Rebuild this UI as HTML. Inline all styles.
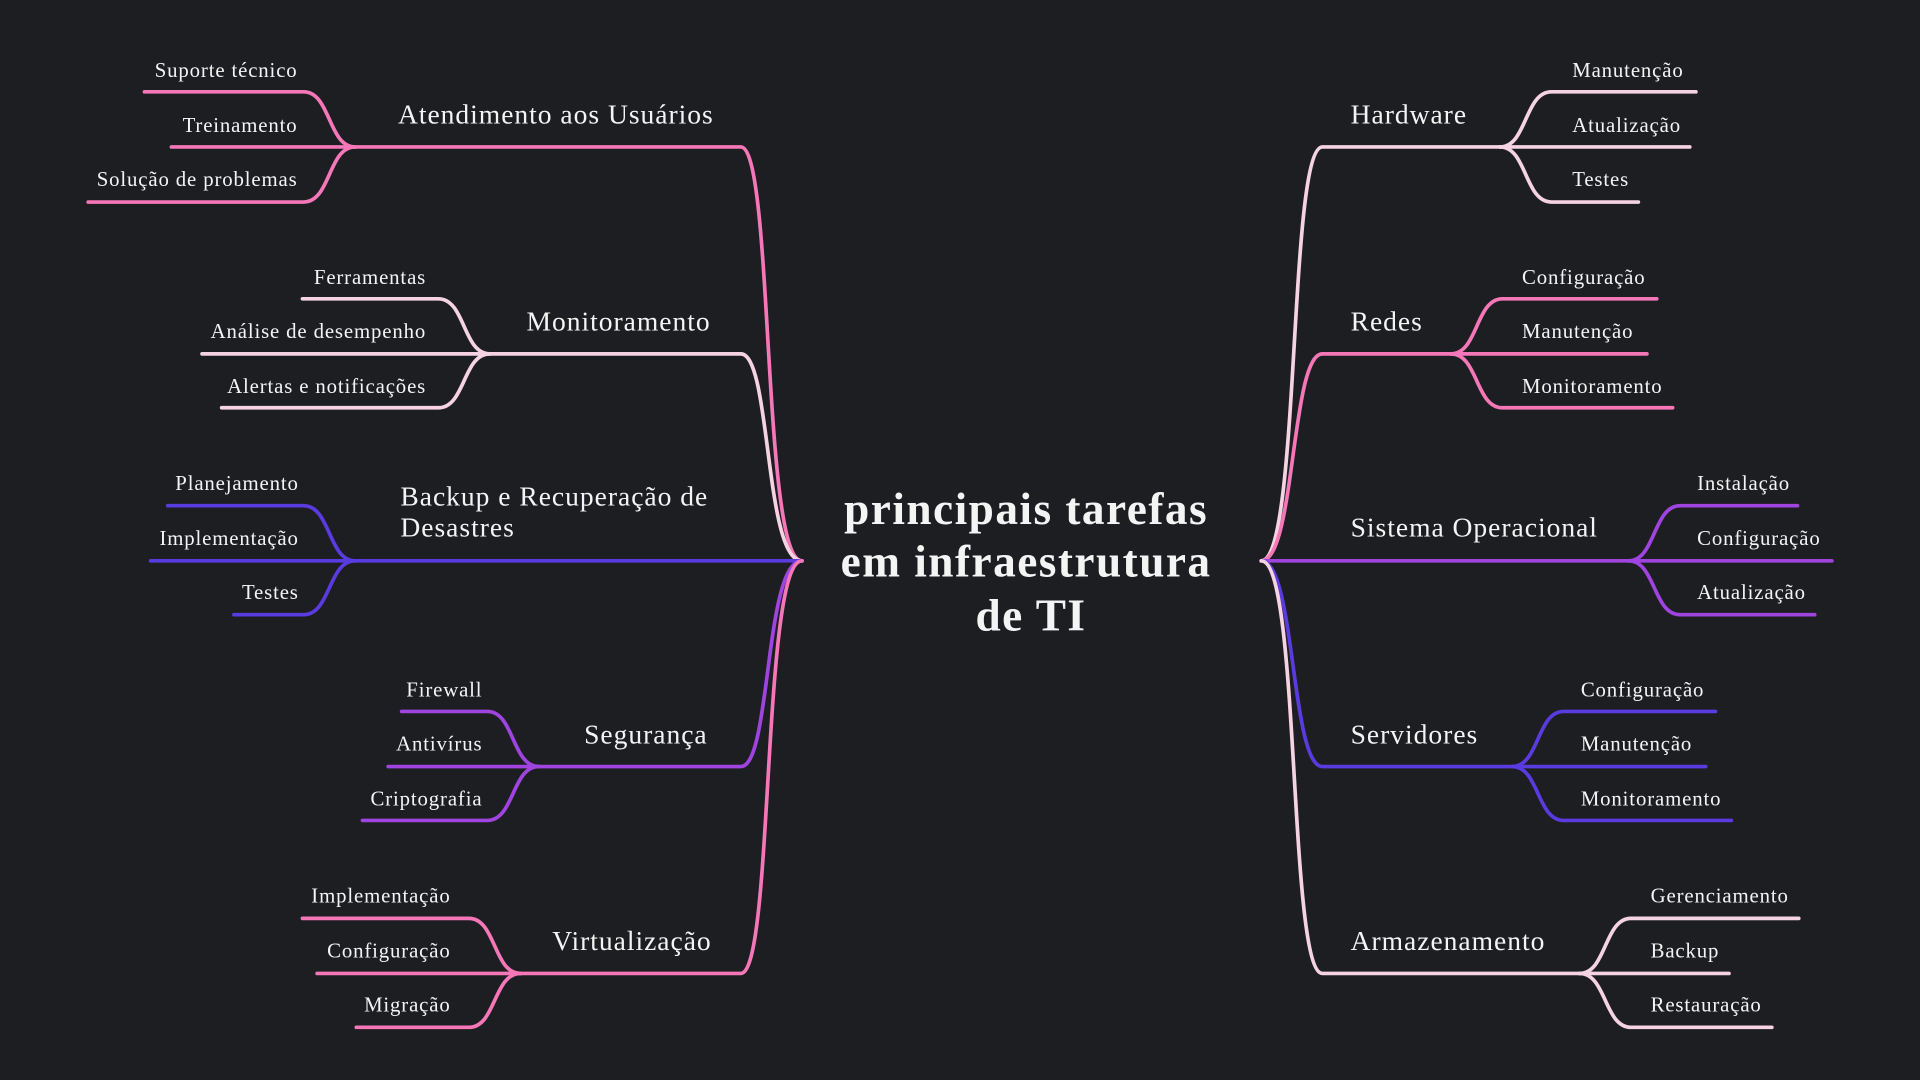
<!DOCTYPE html>
<html><head><meta charset="utf-8"><style>
html,body{margin:0;padding:0;background:#1d1e22;}
svg{display:block;}
text{font-family:"Liberation Serif","DejaVu Serif",serif;fill:#f4f4f4;}
.c{font-size:17px;letter-spacing:0.7px;}
.b{font-size:22.5px;letter-spacing:0.8px;}
.t{font-size:37px;font-weight:bold;letter-spacing:1.2px;}
path{fill:none;stroke-width:3;stroke-linecap:round;}
</style></head><body>
<svg width="1920" height="1080" viewBox="0 0 1568 882" xmlns="http://www.w3.org/2000/svg">
<rect width="1568" height="882" fill="#1d1e22"/>
<g stroke="#f577b8">
<path d="M290 120 L605 120 C632 120,622 458,655 458"/>
<path d="M118 75 L248 75 C270 75,268 120,290 120"/>
<path d="M140 120 L290 120"/>
<path d="M72 165 L248 165 C270 165,268 120,290 120"/>
</g>
<g stroke="#f5d3e2">
<path d="M400 289 L605 289 C630 289,624 458,655 458"/>
<path d="M247 244 L358 244 C380 244,378 289,400 289"/>
<path d="M165 289 L400 289"/>
<path d="M181 333 L358 333 C380 333,378 289,400 289"/>
</g>
<g stroke="#5a3be0">
<path d="M290 458 L655 458"/>
<path d="M137 413 L248 413 C270 413,268 458,290 458"/>
<path d="M123 458 L290 458"/>
<path d="M191 502 L248 502 C270 502,268 458,290 458"/>
</g>
<g stroke="#a044e0">
<path d="M440 626 L605 626 C630 626,624 458,655 458"/>
<path d="M328 581 L398 581 C420 581,418 626,440 626"/>
<path d="M317 626 L440 626"/>
<path d="M296 670 L398 670 C420 670,418 626,440 626"/>
</g>
<g stroke="#f577b8">
<path d="M425 795 L605 795 C632 795,622 458,655 458"/>
<path d="M247 750 L383 750 C405 750,403 795,425 795"/>
<path d="M259 795 L425 795"/>
<path d="M291 839 L383 839 C405 839,403 795,425 795"/>
</g>
<g stroke="#f5d3e2">
<path d="M1030 458 C1062 458,1052 120,1080 120 L1225 120"/>
<path d="M1225 120 C1247 120,1245 75,1267 75 L1385 75"/>
<path d="M1225 120 L1380 120"/>
<path d="M1225 120 C1247 120,1245 165,1267 165 L1338 165"/>
</g>
<g stroke="#f577b8">
<path d="M1030 458 C1058 458,1054 289,1080 289 L1185 289"/>
<path d="M1185 289 C1207 289,1205 244,1227 244 L1353 244"/>
<path d="M1185 289 L1345 289"/>
<path d="M1185 289 C1207 289,1205 333,1227 333 L1366 333"/>
</g>
<g stroke="#a044e0">
<path d="M1030 458 L1330 458"/>
<path d="M1330 458 C1352 458,1350 413,1372 413 L1468 413"/>
<path d="M1330 458 L1496 458"/>
<path d="M1330 458 C1352 458,1350 502,1372 502 L1482 502"/>
</g>
<g stroke="#5a3be0">
<path d="M1030 458 C1058 458,1054 626,1080 626 L1235 626"/>
<path d="M1235 626 C1257 626,1255 581,1277 581 L1401 581"/>
<path d="M1235 626 L1393 626"/>
<path d="M1235 626 C1257 626,1255 670,1277 670 L1414 670"/>
</g>
<g stroke="#f5d3e2">
<path d="M1030 458 C1062 458,1052 795,1080 795 L1290 795"/>
<path d="M1290 795 C1312 795,1310 750,1332 750 L1469 750"/>
<path d="M1290 795 L1412 795"/>
<path d="M1290 795 C1312 795,1310 839,1332 839 L1447 839"/>
</g>
<text class="t" x="838" y="428" text-anchor="middle">principais tarefas</text>
<text class="t" x="838" y="471" text-anchor="middle">em infraestrutura</text>
<text class="t" x="842" y="515" text-anchor="middle">de TI</text>
<text class="b" x="325" y="101">Atendimento aos Usuários</text>
<text class="c" x="243" y="63" text-anchor="end">Suporte técnico</text>
<text class="c" x="243" y="108" text-anchor="end">Treinamento</text>
<text class="c" x="243" y="152" text-anchor="end">Solução de problemas</text>
<text class="b" x="430" y="270">Monitoramento</text>
<text class="c" x="348" y="232" text-anchor="end">Ferramentas</text>
<text class="c" x="348" y="276" text-anchor="end">Análise de desempenho</text>
<text class="c" x="348" y="321" text-anchor="end">Alertas e notificações</text>
<text class="b" x="327" y="413">Backup e Recuperação de</text>
<text class="b" x="327" y="438">Desastres</text>
<text class="c" x="244" y="400" text-anchor="end">Planejamento</text>
<text class="c" x="244" y="445" text-anchor="end">Implementação</text>
<text class="c" x="244" y="489" text-anchor="end">Testes</text>
<text class="b" x="477" y="607">Segurança</text>
<text class="c" x="394" y="569" text-anchor="end">Firewall</text>
<text class="c" x="394" y="613" text-anchor="end">Antivírus</text>
<text class="c" x="394" y="658" text-anchor="end">Criptografia</text>
<text class="b" x="451" y="776">Virtualização</text>
<text class="c" x="368" y="737" text-anchor="end">Implementação</text>
<text class="c" x="368" y="782" text-anchor="end">Configuração</text>
<text class="c" x="368" y="826" text-anchor="end">Migração</text>
<text class="b" x="1103" y="101">Hardware</text>
<text class="c" x="1284" y="63">Manutenção</text>
<text class="c" x="1284" y="108">Atualização</text>
<text class="c" x="1284" y="152">Testes</text>
<text class="b" x="1103" y="270">Redes</text>
<text class="c" x="1243" y="232">Configuração</text>
<text class="c" x="1243" y="276">Manutenção</text>
<text class="c" x="1243" y="321">Monitoramento</text>
<text class="b" x="1103" y="438">Sistema Operacional</text>
<text class="c" x="1386" y="400">Instalação</text>
<text class="c" x="1386" y="445">Configuração</text>
<text class="c" x="1386" y="489">Atualização</text>
<text class="b" x="1103" y="607">Servidores</text>
<text class="c" x="1291" y="569">Configuração</text>
<text class="c" x="1291" y="613">Manutenção</text>
<text class="c" x="1291" y="658">Monitoramento</text>
<text class="b" x="1103" y="776">Armazenamento</text>
<text class="c" x="1348" y="737">Gerenciamento</text>
<text class="c" x="1348" y="782">Backup</text>
<text class="c" x="1348" y="826">Restauração</text>
</svg>
</body></html>
